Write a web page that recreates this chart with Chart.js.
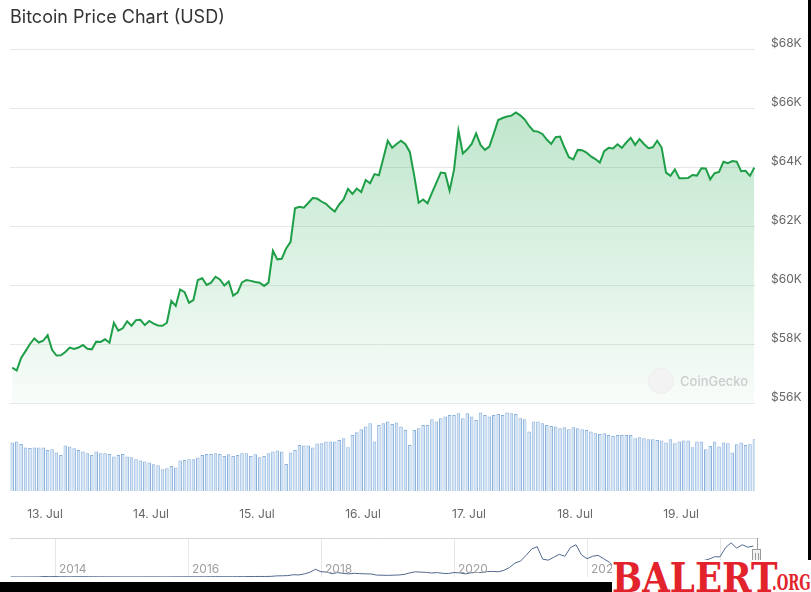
<!DOCTYPE html>
<html><head><meta charset="utf-8">
<script src="https://cdn.jsdelivr.net/npm/chart.js@4.4.1/dist/chart.umd.min.js"></script>
<style>
html,body{margin:0;padding:0;background:#fff;width:811px;height:592px;overflow:hidden;font-family:Inter,"Noto Sans",sans-serif}
#main{position:absolute;left:0;top:0}
#nav{position:absolute;left:0;top:530px}
#title{position:absolute;left:10px;top:5px;font-size:18px;line-height:24px;color:#333;white-space:nowrap}
#cgdot{position:absolute;left:648px;top:368px;width:24px;height:24px;border-radius:50%;background:#f3f3f3;border:1px solid #ececec}
#cgtxt{position:absolute;left:680px;top:372px;font-size:13px;line-height:18px;font-weight:500;color:#cccccc;white-space:nowrap}
#rb{position:absolute;left:808px;top:0;width:3px;height:562px;background:#000}
#bb{position:absolute;left:0;top:582px;width:612px;height:10px;background:#000}
#logo{position:absolute;left:612px;top:560px;width:199px;height:32px;background:#fff;overflow:hidden}
#logo .b{position:absolute;left:0;top:2px;font-family:"DejaVu Serif",serif;font-weight:bold;font-size:41px;line-height:32px;color:#e3232c;transform:scaleX(0.87);transform-origin:0 0;white-space:nowrap}
#logo .o{position:absolute;left:160px;top:12px;font-family:"DejaVu Serif",serif;font-weight:bold;font-size:23px;line-height:20px;color:#e3232c;transform:scaleX(0.58);transform-origin:0 0;white-space:nowrap}
</style></head><body>
<canvas id="main" width="811" height="530"></canvas>
<canvas id="nav" width="811" height="62"></canvas>
<div id="title">Bitcoin Price Chart (USD)</div>
<div id="cgdot"></div><div id="cgtxt">CoinGecko</div>
<div id="rb"></div><div id="bb"></div>
<div id="logo"><span class="b">BALERT</span><span class="o">.ORG</span></div>
<script>
// ---- data ----
const dayLabels = ['13. Jul','14. Jul','15. Jul','16. Jul','17. Jul','18. Jul','19. Jul'];
const firstHour = -7.4; // hours relative to 13 Jul 00:00 (hourly samples)
const prices = [
57200,57100,57530,57760,58000,58190,58050,58110,58300,57800,
57610,57620,57730,57880,57830,57880,57970,57840,57820,58080,
58070,58160,58040,58720,58450,58530,58770,58620,58810,58820,
58640,58780,58690,58630,58620,58720,59460,59290,59850,59760,
59400,59490,60170,60230,60000,60080,60280,60190,59980,60120,
59640,59740,60090,60170,60140,60100,60080,59970,60080,61160,
60870,60890,61240,61460,62600,62650,62620,62780,62950,62930,
62830,62750,62610,62490,62730,62900,63260,63090,63270,63150,
63560,63450,63760,63720,64300,64890,64650,64780,64890,64770,
64510,63700,62790,62900,62770,63120,63460,63810,63790,63200,
63900,65230,64460,64600,64780,65140,64750,64580,64690,65130,
65590,65660,65710,65740,65850,65750,65610,65390,65220,65200,
65120,64930,64780,65010,65030,64660,64330,64260,64580,64570,
64490,64360,64270,64150,64540,64650,64630,64770,64650,64830,
64990,64750,64950,64780,64640,64670,64890,64660,63810,63700,
63920,63620,63620,63630,63730,63710,63960,63950,63580,63790,
63830,64180,64130,64200,64180,63860,63870,63700,63980];
const volumes = [ // billion USD
24.2,24.7,23.5,21.8,21.5,21.8,21.8,21.8,20.5,20.9,
19.2,18.0,22.7,22.2,21.4,20.5,19.7,18.9,18.0,19.7,
18.9,18.9,18.5,17.2,18.0,18.5,17.2,16.9,15.9,15.2,
14.7,14.2,13.4,12.9,10.9,11.4,12.5,11.7,15.2,15.5,
15.9,15.9,16.7,18.0,18.5,18.5,18.9,18.5,17.5,18.4,
17.5,18.0,18.9,18.9,17.5,18.4,16.9,17.5,18.9,19.7,
20.2,19.7,13.5,19.2,20.5,23.0,22.7,22.7,21.7,23.7,
23.9,24.7,24.7,24.7,25.5,26.4,21.9,28.0,29.4,30.9,
32.2,33.9,24.7,33.0,33.9,34.7,33.5,34.2,32.2,30.5,
23.0,30.5,31.4,33.0,33.0,35.9,34.7,36.4,37.2,38.0,
38.0,38.9,36.4,38.9,37.2,35.5,39.2,38.0,37.2,38.0,
38.5,38.0,39.2,38.9,38.5,36.4,35.9,29.7,34.7,34.7,
33.9,33.0,32.5,32.2,31.4,31.9,30.9,31.9,31.4,30.9,
30.5,29.7,28.9,28.5,28.9,28.0,27.5,28.0,28.0,28.0,
28.0,26.4,26.9,26.4,25.9,25.9,25.5,25.2,24.2,25.9,
23.9,24.7,25.2,25.2,21.9,24.7,24.7,20.9,22.5,24.7,
22.2,24.2,23.9,19.2,23.4,24.2,23.0,23.4,25.9];
const priceTicks = [56000,58000,60000,62000,64000,66000,68000];

// navigator: monthly BTC price (thousand USD), May 2013 .. Jul 2024
const navStartYear = 2013, navStartMonth = 5;
const navPrices = [
0.12,0.10,0.10,0.13,0.13,0.20,1.0,0.75,
0.85,0.57,0.46,0.45,0.63,0.64,0.59,0.48,0.39,0.34,0.38,0.32,
0.22,0.25,0.25,0.24,0.23,0.26,0.28,0.23,0.24,0.31,0.38,0.43,
0.37,0.44,0.42,0.45,0.53,0.67,0.62,0.57,0.61,0.70,0.74,0.96,
0.97,1.19,1.08,1.35,2.3,2.5,2.9,4.7,4.3,6.4,9.9,16.0,
11.0,10.3,6.9,9.2,7.5,6.4,7.7,7.0,6.6,6.3,4.0,3.7,
3.4,3.8,4.1,5.3,8.5,10.8,10.1,9.6,8.3,9.2,7.6,7.2,
9.3,8.6,6.4,8.6,9.5,9.1,11.3,11.7,10.8,13.8,19.7,29.0,
33,45,58,63,37,35,41,47,43,61,67,46,
38,43,45,38,31,20,23,20,19,20.5,17,16.5,
23,23,28,29,27,30,29,26,27,34,37,42,
42,61,71,60,67,62,64];
const navYearTicks = [2014,2016,2018,2020,2022,2024];

// ---- main chart ----
const times = prices.map((_, i) => firstHour + i);
const FONT = 'Inter, "Noto Sans", sans-serif';

new Chart(document.getElementById('main'), {
  type: 'line',
  data: {
    datasets: [
      {
        type: 'line', label: 'Price', yAxisID: 'y',
        data: times.map((t, i) => ({x: t, y: prices[i]})),
        borderColor: '#1f9e48', borderWidth: 2, pointRadius: 0, tension: 0,
        fill: {value: 56000},
        backgroundColor: (c) => {
          const ch = c.chart; const area = ch.chartArea;
          if (!area) return 'rgba(0,0,0,0)';
          const y0 = area.top, y1 = ch.scales.y.getPixelForValue(56000);
          const g = ch.ctx.createLinearGradient(0, y0, 0, y1);
          g.addColorStop(0, 'rgba(34,168,80,0.34)');
          g.addColorStop(1, 'rgba(34,168,80,0.03)');
          return g;
        },
        order: 1
      },
      {
        type: 'bar', label: 'Volume', yAxisID: 'yv',
        data: times.map((t, i) => ({x: t, y: volumes[i]})),
        backgroundColor: '#d3e4f5', borderColor: '#8ab0dc', borderWidth: 1,
        barPercentage: 1, categoryPercentage: 0.8,
        order: 2
      }
    ]
  },
  options: {
    responsive: false, animation: false,
    layout: {padding: {left: 10, top: 49, right: 0, bottom: 0}},
    plugins: {legend: {display: false}, tooltip: {enabled: false}, title: {display: false}},
    scales: {
      x: {
        type: 'linear', min: -7.92, max: 160.74, offset: false,
        grid: {display: false}, border: {display: false},
        afterBuildTicks: ax => { ax.ticks = dayLabels.map((_, k) => ({value: k * 24})); },
        ticks: {callback: v => dayLabels[Math.round(v / 24)], color: '#666', font: {size: 12, family: FONT},
                padding: 8, maxRotation: 0, autoSkip: false},
        afterFit: ax => { ax.height = 39; }
      },
      y: {
        position: 'right', min: 53017, max: 68000,
        afterBuildTicks: ax => { ax.ticks = priceTicks.map(v => ({value: v})); },
        grid: {color: '#e8e8e8', drawTicks: false}, border: {display: false},
        ticks: {callback: v => '$' + (v / 1000) + 'K', color: '#666', font: {size: 12, family: FONT},
                padding: 16, labelOffset: -6},
        afterFit: ax => { ax.width = 56; }
      },
      yv: {position: 'left', display: false, min: 0, max: 221}
    }
  }
});

// ---- navigator ----
const navTimes = navPrices.map((_, i) => navStartYear + (navStartMonth - 1) / 12 + i / 12);
const navPlugin = {
  id: 'navdeco',
  afterDraw(chart) {
    const {ctx, chartArea: a, scales} = chart;
    ctx.save();
    ctx.strokeStyle = '#d6d6d6'; ctx.lineWidth = 1;
    ctx.beginPath(); ctx.moveTo(a.left, a.top + 0.5); ctx.lineTo(a.right, a.top + 0.5); ctx.stroke();
    ctx.fillStyle = '#a0a0a0'; ctx.font = '12px ' + FONT; ctx.textBaseline = 'middle'; ctx.textAlign = 'left';
    navYearTicks.forEach(yr => { ctx.fillText(String(yr), scales.x.getPixelForValue(yr) + 4, a.bottom - 8); });
    // range handle at the right end
    ctx.strokeStyle = '#9a9a9a';
    ctx.beginPath(); ctx.moveTo(a.right + 0.5, a.top); ctx.lineTo(a.right + 0.5, a.bottom); ctx.stroke();
    ctx.fillStyle = '#f2f2f2';
    ctx.fillRect(a.right - 4.5, a.top + 11.5, 8, 14); ctx.strokeRect(a.right - 4.5, a.top + 11.5, 8, 14);
    ctx.beginPath(); ctx.moveTo(a.right - 1.5, a.top + 15); ctx.lineTo(a.right - 1.5, a.top + 22);
    ctx.moveTo(a.right + 1.5, a.top + 15); ctx.lineTo(a.right + 1.5, a.top + 22); ctx.stroke();
    ctx.restore();
  }
};
new Chart(document.getElementById('nav'), {
  type: 'line',
  data: {datasets: [{data: navTimes.map((t, i) => ({x: t, y: navPrices[i]})),
    borderColor: '#51698f', borderWidth: 1, pointRadius: 0, tension: 0, fill: false}]},
  options: {
    responsive: false, animation: false,
    layout: {padding: {left: 10, right: 54, top: 8, bottom: 0}},
    plugins: {legend: {display: false}, tooltip: {enabled: false}},
    scales: {
      x: {type: 'linear', min: 2013.323, max: 2024.556,
          afterBuildTicks: ax => { ax.ticks = navYearTicks.map(v => ({value: v})); },
          ticks: {display: false}, grid: {color: '#e6e6e6', drawTicks: false}, border: {display: false},
          afterFit: ax => { ax.height = 15; }},
      y: {display: false, min: 0, max: 81}
    }
  },
  plugins: [navPlugin]
});
</script>
</body></html>
